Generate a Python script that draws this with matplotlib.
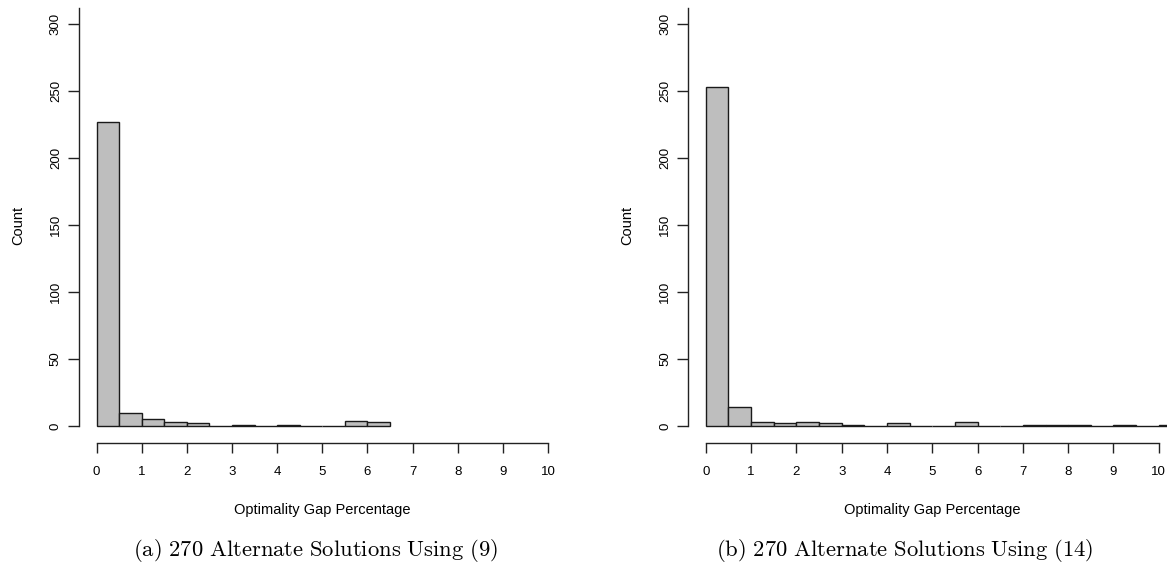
import numpy as np
import matplotlib
matplotlib.use("Agg")
import matplotlib.pyplot as plt

plt.rcParams['font.family'] = ['Liberation Sans', 'DejaVu Sans']
plt.rcParams['mathtext.fontset'] = 'cm'

# histogram counts per 0.5-wide bin, starting at 0
bin_width = 0.5
counts_a = [227, 10, 5, 3, 2, 0, 1, 0, 1, 0, 0, 4, 3]
counts_b = [253, 14, 3, 2, 3, 2, 1, 0, 2, 0, 0, 3, 0, 0, 1, 1, 1, 0, 1, 0, 1]
captions = [r'$\mathrm{(a)\ 270\ Alternate\ Solutions\ Using\ (9)}$',
            r'$\mathrm{(b)\ 270\ Alternate\ Solutions\ Using\ (14)}$']
xticks = list(range(0, 11))
yticks = list(range(0, 301, 50))

W, H = 1167, 571
fig = plt.figure(figsize=(W / 100, H / 100), dpi=100)

# axes in pixel coords: left, right, bottom(y pixel), top(y pixel)
boxes = [(78.5, 566.0, 442.0, 8.0), (687.7, 1176.9, 442.0, 8.0)]
cap_x = [315, 905]

for counts, box, cap, cx in zip([counts_a, counts_b], boxes, captions, cap_x):
    x0, x1, yb, yt = box
    ax = fig.add_axes([x0 / W, 1 - yb / H, (x1 - x0) / W, (yb - yt) / H])
    edges = np.arange(len(counts)) * bin_width
    ax.bar(edges, counts, width=bin_width, align='edge',
           color='#bebebe', edgecolor='#1a1a1a', linewidth=1.0)
    ax.set_xlim(-0.4, 10.4)
    ax.set_ylim(-12, 312)
    for s in ['top', 'right']:
        ax.spines[s].set_visible(False)
    ax.spines['bottom'].set_bounds(0, 10)
    ax.spines['left'].set_bounds(0, 312)
    ax.spines['bottom'].set_position(('outward', 1))
    for s in ['bottom', 'left']:
        ax.spines[s].set_linewidth(1.0)
        ax.spines[s].set_color('#222222')
    ax.set_xticks(xticks)
    ax.set_yticks(yticks)
    ax.set_yticklabels([str(v) for v in yticks], rotation=90, va='center')
    ax.tick_params(axis='y', length=8, width=1, labelsize=9.5, pad=4, color='#222222')
    ax.tick_params(axis='x', length=7, width=1, labelsize=9.5, pad=9, color='#222222')
    ax.set_xlabel('Optimality Gap Percentage', fontsize=10.5, labelpad=18)
    ax.set_ylabel('Count', fontsize=10.5, labelpad=18)
    fig.text(cx / W, 1 - 550 / H, cap, ha='center', va='center', fontsize=16.3)

fig.savefig('out.png', dpi=100)
